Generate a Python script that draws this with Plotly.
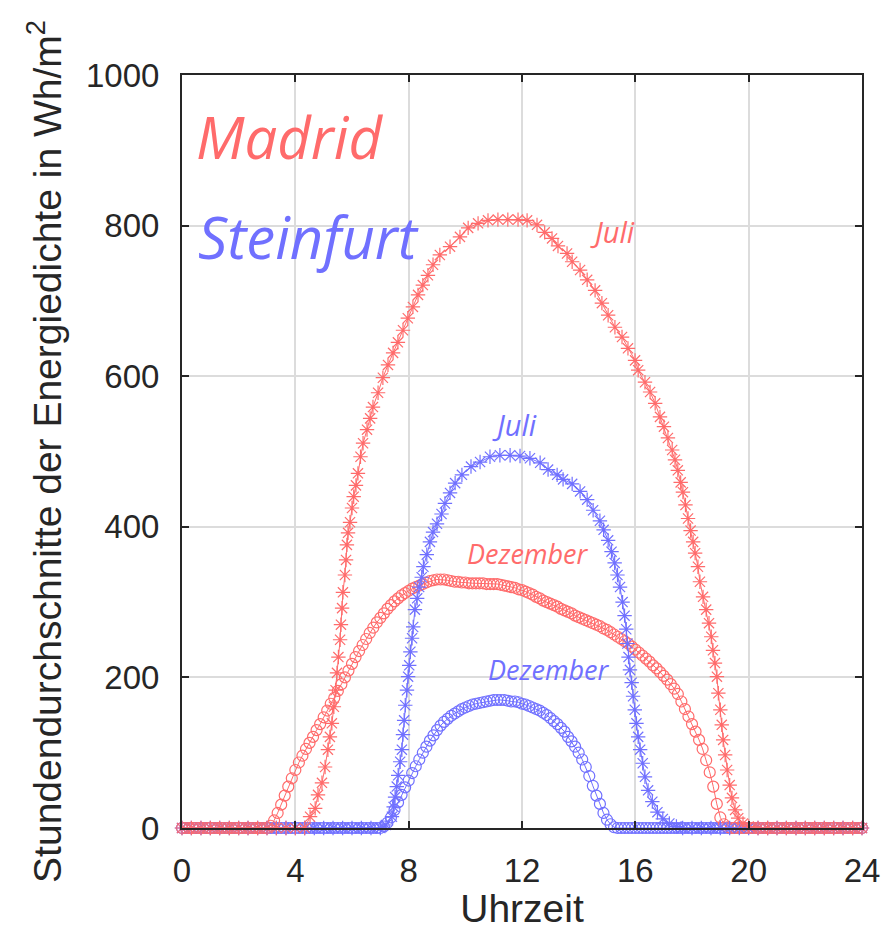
import plotly.graph_objects as go

# ---------------- data ----------------
hour_ticks = [0, 4, 8, 12, 16, 20, 24]
value_ticks = [0, 200, 400, 600, 800, 1000]

# Madrid, Juli (asterisks)
madrid_juli_x = [0, 0.33, 0.67, 1.0, 1.33, 1.67, 2.0, 2.33, 2.67, 3.0, 3.33, 3.67, 4.0, 4.33,
                 4.52, 4.7, 4.8, 4.94, 5.05, 5.15, 5.22, 5.29, 5.36, 5.42,
                 5.47, 5.52, 5.58, 5.61, 5.65, 5.68, 5.75, 5.79, 5.82, 5.86,
                 5.93, 6.0, 6.06, 6.14, 6.21, 6.3, 6.39, 6.53, 6.64, 6.74,
                 6.92, 7.09, 7.27, 7.45, 7.62, 7.8, 7.97, 8.15, 8.33, 8.5,
                 8.68, 8.86, 9.1, 9.46, 9.81, 10.1, 10.45, 10.8, 11.15, 11.5,
                 11.86, 12.18, 12.53, 12.8, 13.06, 13.27, 13.59, 13.77, 14.05, 14.3,
                 14.58, 14.82, 15.04, 15.28, 15.53, 15.74, 15.99, 16.1, 16.34, 16.52,
                 16.7, 16.87, 17.01, 17.15, 17.3, 17.4, 17.5, 17.6, 17.68, 17.77,
                 17.86, 17.95, 18.04, 18.11, 18.21, 18.28, 18.39, 18.5, 18.6, 18.68,
                 18.74, 18.81, 18.88, 18.93, 19.0, 19.05, 19.1, 19.17, 19.24, 19.33,
                 19.41, 19.52, 19.63, 19.8, 20.0,
                 20.33, 20.67, 21.0, 21.33, 21.67, 22.0, 22.33, 22.67, 23.0, 23.33, 23.67, 24.0]
madrid_juli_y = [0, 0, 0, 0, 0, 0, 0, 0, 0, 0, 0, 0, 0, 0,
                 15, 26, 44, 60, 81, 104, 121, 139, 161, 183,
                 206, 227, 250, 270, 292, 313, 336, 356, 376, 392,
                 406, 425, 440, 455, 471, 493, 511, 529, 544, 559,
                 578, 598, 615, 631, 645, 661, 677, 692, 708, 721,
                 734, 748, 761, 772, 785, 797, 803, 807, 808, 808,
                 808, 807, 801, 791, 783, 773, 763, 752, 741, 728,
                 714, 697, 681, 665, 652, 637, 621, 608, 592, 579,
                 564, 546, 533, 518, 502, 489, 475, 459, 446, 429,
                 411, 395, 380, 365, 347, 327, 307, 290, 272, 254,
                 236, 219, 201, 179, 157, 137, 117, 97, 77, 57,
                 40, 24, 13, 6, 2,
                 0, 0, 0, 0, 0, 0, 0, 0, 0, 0, 0, 0]

# Steinfurt, Juli (asterisks)
steinfurt_juli_x = [0, 0.33, 0.67, 1.0, 1.33, 1.67, 2.0, 2.33, 2.67, 3.0, 3.33,
                    3.67, 4.0, 4.33, 4.67, 5.0, 5.33, 5.67, 6.0, 6.33, 6.67, 7.0,
                    7.2, 7.41, 7.47, 7.52, 7.58, 7.63, 7.7, 7.76, 7.8, 7.84,
                    7.88, 7.94, 7.98, 8.02, 8.06, 8.12, 8.16, 8.22, 8.3, 8.37,
                    8.46, 8.52, 8.64, 8.75, 8.86, 9.0, 9.16, 9.28, 9.46, 9.64,
                    9.88, 10.2, 10.52, 10.87, 11.22, 11.58, 11.93, 12.28, 12.64, 12.92,
                    13.24, 13.45, 13.77, 14.05, 14.3, 14.51, 14.75, 14.88, 15.04, 15.16,
                    15.27, 15.37, 15.46, 15.55, 15.62, 15.68, 15.72, 15.76, 15.81, 15.87,
                    15.92, 15.98, 16.04, 16.1, 16.17, 16.26, 16.34, 16.45, 16.6, 16.78,
                    16.97, 17.2, 17.45,
                    17.67, 18.0, 18.33, 18.67, 19.0, 19.33, 19.67, 20.0, 20.33, 20.67,
                    21.0, 21.33, 21.67, 22.0, 22.33, 22.67, 23.0, 23.33, 23.67, 24.0]
steinfurt_juli_y = [0, 0, 0, 0, 0, 0, 0, 0, 0, 0, 0,
                    0, 0, 0, 0, 0, 0, 0, 0, 0, 0, 0,
                    4, 15, 28, 41, 55, 70, 88, 104, 124, 143,
                    163, 183, 201, 216, 234, 252, 267, 290, 305, 320,
                    333, 347, 363, 380, 393, 404, 417, 431, 445, 458,
                    469, 480, 486, 493, 495, 495, 494, 491, 485, 476,
                    469, 463, 457, 447, 436, 422, 408, 396, 382, 367,
                    352, 336, 320, 300, 282, 264, 245, 227, 210, 193,
                    175, 157, 139, 121, 104, 86, 68, 50, 35, 21,
                    12, 6, 2,
                    0, 0, 0, 0, 0, 0, 0, 0, 0, 0,
                    0, 0, 0, 0, 0, 0, 0, 0, 0, 0]

# Dezember series: samples every 7.5 minutes from 0 to 24 h
dez_hours = [i / 8 for i in range(193)]

madrid_dez_y = [0] * 25 + [
    3, 10, 20, 31, 43, 55, 66, 77, 87, 96,
    105, 113, 121, 130, 138, 147, 156, 165, 173, 182,
    191, 200, 209, 218, 227, 235, 243, 251, 259, 266,
    273, 279, 285, 291, 296, 301, 305, 309, 312, 315,
    318, 320, 322, 324, 326, 328, 329, 330, 330, 330,
    329, 328, 327, 327, 326, 326, 325, 325, 325, 325,
    325, 324, 324, 324, 324, 323, 322, 321, 320, 319,
    317, 316, 314, 312, 310, 307, 305, 302, 300, 298,
    296, 294, 291, 289, 287, 285, 282, 280, 278, 276,
    274, 272, 270, 268, 265, 263, 260, 257, 254, 251,
    248, 245, 241, 237, 233, 229, 225, 221, 216, 212,
    207, 202, 197, 191, 185, 178, 168, 158, 148, 138,
    128, 117, 105, 90, 74, 55, 32, 14, 5, 1] + [0] * 38

steinfurt_dez_y = [0] * 57 + [
    2, 7, 14, 24, 34, 44, 54, 63, 73, 82,
    91, 100, 108, 116, 123, 130, 136, 141, 145, 149,
    152, 155, 158, 160, 162, 164, 165, 166, 167, 168,
    169, 170, 170, 170, 170, 169, 168, 168, 167, 165,
    164, 162, 160, 158, 156, 153, 150, 146, 142, 138,
    133, 128, 121, 115, 108, 100, 91, 81, 69, 56,
    43, 32, 20, 11, 5, 1] + [0] * 70

assert len(madrid_juli_x) == len(madrid_juli_y)
assert len(steinfurt_juli_x) == len(steinfurt_juli_y)
assert len(dez_hours) == len(madrid_dez_y) == len(steinfurt_dez_y)

RED = "#ff6b6b"
BLUE = "#7070ff"
AXIS = "#262626"

fig = go.Figure()

def add(x, y, color, symbol, size):
    fig.add_trace(go.Scatter(
        x=x, y=y, mode="lines+markers", cliponaxis=False,
        line=dict(color=color, width=1),
        marker=dict(symbol=symbol, size=size, color=color,
                    line=dict(color=color, width=1.2)),
        hoverinfo="x+y"))

add(dez_hours, steinfurt_dez_y, BLUE, "circle-open", 11)
add(dez_hours, madrid_dez_y, RED, "circle-open", 11)
add(steinfurt_juli_x, steinfurt_juli_y, BLUE, "asterisk-open", 12)
add(madrid_juli_x, madrid_juli_y, RED, "asterisk-open", 12)

script = dict(family="Open Sans, DejaVu Sans, sans-serif", style="italic")
labels = [
    ("Madrid", 3.78, 918, RED, 58),
    ("Steinfurt", 4.48, 785, BLUE, 58),
    ("Juli", 15.2, 792, RED, 29),
    ("Juli", 11.75, 536, BLUE, 29),
    ("Dezember", 12.18, 365, RED, 27),
    ("Dezember", 12.92, 210, BLUE, 27),
]
for text, x, y, color, size in labels:
    fig.add_annotation(x=x, y=y, xref="x", yref="y", text=text, showarrow=False,
                       font=dict(color=color, size=size, **script))

tickfont = dict(family="Liberation Sans, Arial, sans-serif", size=33, color=AXIS)
titlefont = dict(family="Liberation Sans, Arial, sans-serif", size=39, color=AXIS)

common = dict(ticks="inside", ticklen=7, tickwidth=2, tickcolor=AXIS,
              showline=True, linewidth=2, linecolor=AXIS, mirror="allticks",
              showgrid=True, gridcolor="#dcdcdc", gridwidth=1.5, zeroline=False,
              tickfont=tickfont, automargin=False)

fig.update_xaxes(range=[0, 24], tickvals=hour_ticks, ticklabelstandoff=12,
                 title=dict(text="Uhrzeit", font=titlefont, standoff=5), **common)
fig.update_yaxes(range=[0, 1000], tickvals=value_ticks, ticklabelstandoff=14,
                 title=dict(text="Stundendurchschnitte der Energiedichte in Wh/m<sup>2</sup>",
                            font=titlefont, standoff=12), **common)

# the page body adds an 8 px offset, so the figure is sized to fill the window
fig.update_layout(width=887, height=922, margin=dict(l=174, r=33, t=67, b=102),
                  plot_bgcolor="white", paper_bgcolor="white", showlegend=False)

fig.write_html("out.html")
